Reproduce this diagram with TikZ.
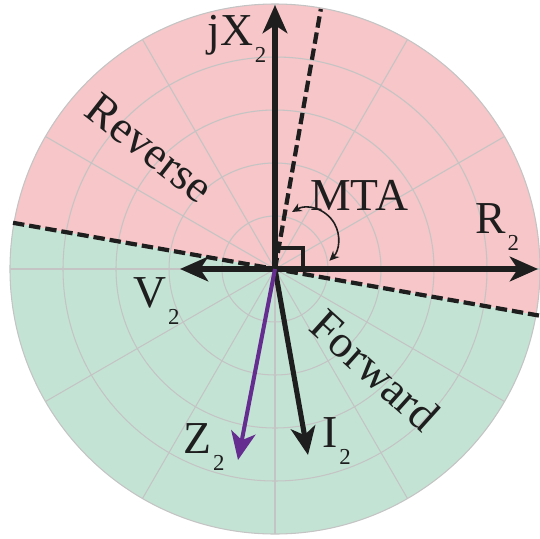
\documentclass[tikz,border=0pt]{standalone}
\usepackage{fontspec}
\setmainfont{Liberation Serif}
\usepackage{graphicx}
\usetikzlibrary{arrows.meta}

\definecolor{revpink}{RGB}{246,198,200}
\definecolor{fwdgreen}{RGB}{195,227,212}
\definecolor{zpurple}{RGB}{101,45,144}
\definecolor{gridgray}{RGB}{196,196,196}
\definecolor{inkblack}{RGB}{30,30,30}

\newcommand{\lowsub}[1]{\kern0.04em\raisebox{-0.38em}{\scalebox{0.5}{#1}}}

\begin{document}
\begin{tikzpicture}[
  x=0.02cm, y=0.02cm,
  >={Stealth[length=16pt, width=14pt, inset=4.5pt]},
  every node/.style={font=\fontsize{26}{30}\selectfont, text=inkblack, inner sep=0pt},
  grd/.style={draw=gridgray, line width=0.6pt},
  arr/.style={->, line width=2.9pt, draw=inkblack},
  parr/.style={->, line width=2.3pt, draw=zpurple},
  dln/.style={line width=2.4pt, draw=inkblack, dash pattern=on 6.5pt off 2.8pt},
  angarr/.style={{Stealth[length=5.5pt, width=5pt]}-{Stealth[length=5.5pt, width=5pt]},
                 line width=0.9pt, draw=inkblack},
  sqmark/.style={line width=2.2pt, draw=inkblack},
  zoneLabel/.style={anchor=center},
  vecLabel/.style={anchor=base west},
]
\useasboundingbox (-275,-269) rectangle (265,269);

%% ── Half planes ─────────────────────────────────────────────────────────────
\fill[revpink]  (0,0) -- (-10:265) arc[start angle=-10, end angle=170, radius=265] -- cycle;
\fill[fwdgreen] (0,0) -- (170:265) arc[start angle=170, end angle=350, radius=265] -- cycle;

%% ── Polar grid ──────────────────────────────────────────────────────────────
\foreach \rr in {53,106,159,212,265}
  \draw[grd] (0,0) circle[radius=\rr];
\foreach \aa in {0,30,...,330}
  \draw[grd] (0,0) -- (\aa:265);

%% ── Points ──────────────────────────────────────────────────────────────────
\coordinate (o)    at (0,0);
\coordinate (bndL) at (170:266);
\coordinate (bndR) at (-10:268);
\coordinate (mta)  at (80:264);
\coordinate (jx)   at (0,264);
\coordinate (r2)   at (263,0);
\coordinate (v2)   at (-95,0);
\coordinate (i2)   at (33,-186);
\coordinate (z2)   at (-37,-191);
\coordinate (mtaA) at (17,57);

%% ── Boundary and MTA line ───────────────────────────────────────────────────
\draw[dln] (bndL) -- (bndR);
\draw[dln] (o) -- (mta);

\draw[sqmark] (0,21) -- (28,21) -- (28,0);
\draw[angarr] (mtaA) arc[start angle=120, end angle=-45, radius=31];

%% ── Phasors ─────────────────────────────────────────────────────────────────
\draw[arr]  (o) -- (jx);
\draw[arr]  (o) -- (r2);
\draw[arr]  (o) -- (v2);
\draw[arr]  (o) -- (i2);
\draw[parr] (o) -- (z2);

%% ── Labels ──────────────────────────────────────────────────────────────────
\node[vecLabel] (jxlbl)  at (-68,224)  {jX\lowsub{2}};
\node[vecLabel] (rlbl)   at (200,36)   {R\lowsub{2}};
\node[vecLabel] (mtalbl) at (35,59)    {MTA};
\node[vecLabel] (vlbl)   at (-142,-38) {V\lowsub{2}};
\node[vecLabel] (zlbl)   at (-92,-184) {Z\lowsub{2}};
\node[vecLabel] (ilbl)   at (47,-178)  {I\lowsub{2}};

\node[zoneLabel, rotate=-38] (revlbl) at (-125,121) {Reverse};
\node[zoneLabel, rotate=-42] (fwdlbl) at (100,-101) {Forward};

\end{tikzpicture}
\end{document}
